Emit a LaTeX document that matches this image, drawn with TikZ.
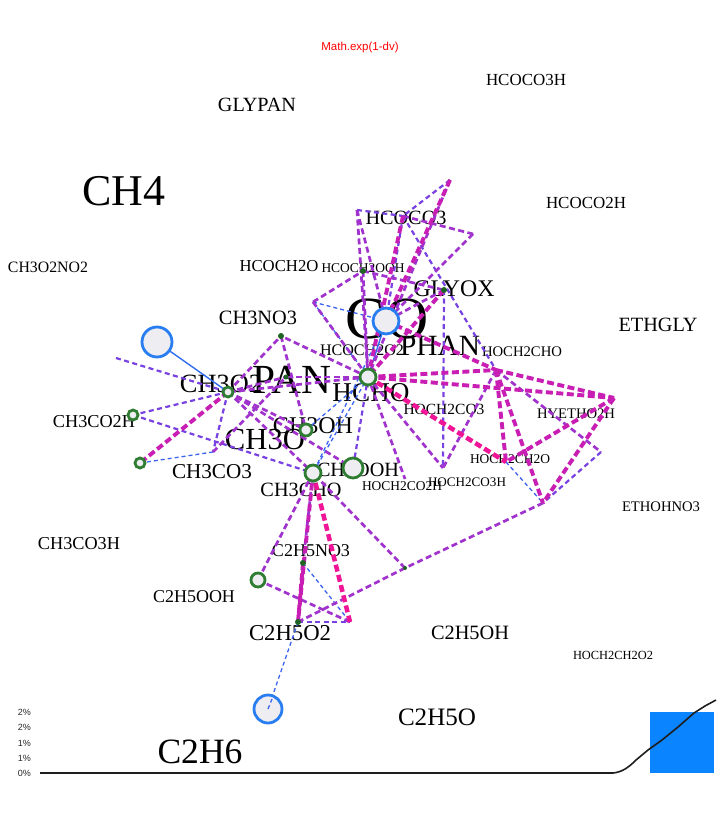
\documentclass[tikz,border=0pt]{standalone}
\usepackage{graphicx}
\usepackage{fontspec}
\setmainfont{Liberation Serif}
\newfontfamily\sansf{Liberation Sans}
\newcommand\fitw[2][80pt]{\resizebox{#1}{!}{#2}}
\definecolor{cpu}{RGB}{160,50,205}
\definecolor{cbv}{RGB}{120,65,225}
\definecolor{cmg}{RGB}{200,30,180}
\definecolor{cpk}{RGB}{240,20,150}
\definecolor{cbl}{RGB}{60,100,240}
\definecolor{cbls}{RGB}{50,110,240}
\definecolor{cbig}{RGB}{40,125,240}
\definecolor{cfill}{RGB}{238,238,242}
\definecolor{cgr}{RGB}{46,125,50}
\definecolor{cdot}{RGB}{30,100,35}
\definecolor{caxis}{RGB}{40,40,40}
\definecolor{cbar}{RGB}{10,132,255}
\definecolor{cline}{RGB}{30,30,30}
\begin{document}
\begin{tikzpicture}[x=1pt,y=-1pt,
  lab/.style={inner sep=0pt,text=black},
  pu/.style={draw=cpu,line width=2.7pt,dash pattern=on 6pt off 3.5pt},
  bv/.style={draw=cbv,line width=2.2pt,dash pattern=on 5pt off 3.5pt},
  mg/.style={draw=cmg,line width=3.9pt,dash pattern=on 7pt off 3.5pt},
  pk/.style={draw=cpk,line width=4.5pt,dash pattern=on 7pt off 3.5pt},
  bl/.style={draw=cbl,line width=1.3pt,dash pattern=on 4pt off 3pt},
  bls/.style={draw=cbls,line width=1.4pt},
  bigc/.style={circle,draw=cbig,line width=2.8pt,fill=cfill,inner sep=0pt},
  grc/.style={circle,draw=cgr,line width=2.8pt,fill=cfill,inner sep=0pt},
  dotc/.style={circle,fill=cdot,inner sep=0pt,minimum size=6pt},
  axl/.style={inner sep=0pt,anchor=east,font=\sansf\fontsize{9}{10}\selectfont,text=caxis}
]
\useasboundingbox (0,0) rectangle (721,826);
\fill[white] (0,0) rectangle (721,826);

% ---------- labels ----------
\node[lab,text=red,font=\sansf\fontsize{11.5}{12}\selectfont] (tMath) at (360,48) {Math.exp(1-dv)};
\node[lab] (tHCOCO3H) at (526,80) {\fitw{HCOCO3H}};
\node[lab] (tGLYPAN) at (257,105) {\fitw[78pt]{GLYPAN}};
\node[lab] (tCH4) at (124,191) {\fitw[83pt]{CH4}};
\node[lab] (tHCOCO2H) at (586,203) {\fitw{HCOCO2H}};
\node[lab] (tHCOCO3) at (406,218) {\fitw[81pt]{HCOCO3}};
\node[lab] (tCH3O2NO2) at (48,267) {\fitw{CH3O2NO2}};
\node[lab] (tHCOCH2O) at (279,266) {\fitw[79pt]{HCOCH2O}};
\node[lab] (tHCOCH2OOH) at (363,268) {\fitw[83pt]{HCOCH2OOH}};
\node[lab] (tGLYOX) at (454,289) {\fitw[81pt]{GLYOX}};
\node[lab] (tCO) at (387,319) {\fitw[83pt]{CO}};
\node[lab] (tETHGLY) at (658,325) {\fitw[79pt]{ETHGLY}};
\node[lab] (tCH3NO3) at (258,318) {\fitw[78pt]{CH3NO3}};
\node[lab] (tHCOCH2O2) at (362,350) {\fitw[84pt]{HCOCH2O2}};
\node[lab] (tPHAN) at (440,346) {\fitw{PHAN}};
\node[lab] (tHOCH2CHO) at (522,352) {\fitw{HOCH2CHO}};
\node[lab] (tCH3O2) at (221,384) {\fitw[82pt]{CH3O2}};
\node[lab] (tPAN) at (292,380) {\fitw[79pt]{PAN}};
\node[lab] (tHCHO) at (371,393) {\fitw[77pt]{HCHO}};
\node[lab] (tHOCH2CO3) at (444,409) {\fitw[81pt]{HOCH2CO3}};
\node[lab] (tHYETHO2H) at (576,414) {\fitw[78pt]{HYETHO2H}};
\node[lab] (tCH3CO2H) at (94,422) {\fitw[82pt]{CH3CO2H}};
\node[lab] (tCH3OH) at (313,426) {\fitw{CH3OH}};
\node[lab] (tCH3O) at (265,440) {\fitw{CH3O}};
\node[lab] (tHOCH2CH2O) at (510,459) {\fitw{HOCH2CH2O}};
\node[lab] (tCH3CO3) at (212,472) {\fitw{CH3CO3}};
\node[lab] (tCH3OOH) at (358,470) {\fitw[82pt]{CH3OOH}};
\node[lab] (tHOCH2CO3H) at (467,482) {\fitw[78pt]{HOCH2CO3H}};
\node[lab] (tHOCH2CO2H) at (402,486) {\fitw{HOCH2CO2H}};
\node[lab] (tCH3CHO) at (301,490) {\fitw[81pt]{CH3CHO}};
\node[lab] (tETHOHNO3) at (661,507) {\fitw[78pt]{ETHOHNO3}};
\node[lab] (tCH3CO3H) at (79,544) {\fitw[82pt]{CH3CO3H}};
\node[lab] (tC2H5NO3) at (311,551) {\fitw[78pt]{C2H5NO3}};
\node[lab] (tC2H5OOH) at (194,597) {\fitw[82pt]{C2H5OOH}};
\node[lab] (tC2H5O2) at (290,633) {\fitw[82pt]{C2H5O2}};
\node[lab] (tC2H5OH) at (470,633) {\fitw[78pt]{C2H5OH}};
\node[lab] (tHOCH2CH2O2) at (613,655) {\fitw{HOCH2CH2O2}};
\node[lab] (tC2H5O) at (437,717) {\fitw[78pt]{C2H5O}};
\node[lab] (tC2H6) at (200,752) {\fitw[85pt]{C2H6}};

% ---------- vertices ----------
\coordinate (vCH4) at (157,342);
\coordinate (vCO) at (386,321);
\coordinate (vC2H6) at (268,709);
\coordinate (vCH3O2) at (228,392);
\coordinate (vCH3CO2H) at (133,415);
\coordinate (vP1) at (140,463);
\coordinate (vCH3OH) at (306,430);
\coordinate (vHCHO) at (368,377);
\coordinate (vCH3OOH) at (353,468);
\coordinate (vCH3CHO) at (313,473);
\coordinate (vC2H5OOH) at (258,580);
\coordinate (vCH3NO3) at (281,336);
\coordinate (vHCOCH2OOH) at (363,271);
\coordinate (vGLYOX) at (444,290);
\coordinate (vC2H5NO3) at (303,563);
\coordinate (vC2H5O2) at (298,622);
\coordinate (vQ) at (405,568);
\coordinate (vPAN) at (286,377);
\coordinate (vApex) at (450,180);
\coordinate (vTL) at (357,210);
\coordinate (vHCOCO3) at (403,216);
\coordinate (vR) at (473,234);
\coordinate (vL) at (313,302);
\coordinate (vHOCH2CHO) at (496,370);
\coordinate (vR2) at (614,398);
\coordinate (vR3) at (601,452);
\coordinate (vHOCH2CH2O) at (506,462);
\coordinate (vBR) at (543,503);
\coordinate (vHOCH2CO3) at (443,468);
\coordinate (vHOCH2CO2H) at (405,479);
\coordinate (vCH3CO3) at (213,452);
\coordinate (vLeft) at (116,358);
\coordinate (vC2R) at (350,622);

% ---------- connectors ----------
\foreach \a/\b in {vL/vHCHO,vL/vCO,vHOCH2CH2O/vBR,vP1/vCH3CO3,vC2H5NO3/vC2R,vCO/vCH3CHO,vHCHO/vCH3OH,vHCHO/vCH3CHO,vC2H5O2/vC2H6}
  \draw[bl] (\a) -- (\b);
\foreach \a/\b in {vCH4/vCH3O2,vCO/vHCHO}
  \draw[bls] (\a) -- (\b);
\foreach \a/\b in {vApex/vHCOCO3,vTL/vHCOCO3,vHCOCO3/vHOCH2CHO,vHCOCO3/vCO,vGLYOX/vHOCH2CO3,vR3/vBR,vLeft/vCH3O2,vCH3O2/vCH3CO2H,vCH3O2/vCH3CO3,vCH3CO2H/vCH3CHO,vC2H5O2/vC2R,vHCHO/vCH3OOH}
  \draw[bv] (\a) -- (\b);
\foreach \a/\b in {vApex/vHCHO,vTL/vCO,vTL/vHCHO,vHCOCO3/vR,vR/vCO,vL/vHCOCH2OOH,vL/vHCHO,vHCOCH2OOH/vHCHO,vHCOCH2OOH/vGLYOX,vGLYOX/vCO,vHCHO/vCH3O2,vHCHO/vCH3NO3,vHCHO/vHOCH2CO2H,vHCHO/vHOCH2CO3,vHOCH2CHO/vR3,vHOCH2CHO/vHOCH2CO3,vBR/vQ,vQ/vC2H5O2,vQ/vCH3CHO,vCH3CHO/vC2H5NO3,vCH3CHO/vC2H5OOH,vC2H5OOH/vC2R,vCH3O2/vCH3NO3,vCH3O2/vCH3OH,vCH3O2/vCH3CHO,vCH3O2/vCH3OOH,vCH3NO3/vCH3OH,vCH3CO3/vPAN,vPAN/vHCHO,vCH3O2/vPAN}
  \draw[pu] (\a) -- (\b);
\foreach \a/\b in {vApex/vCO,vHCOCO3/vHCHO,vGLYOX/vHCHO,vCO/vHOCH2CHO,vHCHO/vHOCH2CHO,vHCHO/vR2,vHOCH2CHO/vR2,vHOCH2CHO/vBR,vHOCH2CHO/vHOCH2CH2O,vR2/vBR,vR2/vHOCH2CH2O,vCH3CHO/vC2H5O2,vC2H5NO3/vC2H5O2,vCH3O2/vP1}
  \draw[mg] (\a) -- (\b);
\foreach \a/\b in {vHCHO/vHOCH2CH2O,vCH3CHO/vC2R}
  \draw[pk] (\a) -- (\b);

% ---------- markers ----------
\node[bigc,minimum size=30pt] (cCH4) at (vCH4) {};
\node[bigc,minimum size=26pt] (cCO) at (vCO) {};
\node[bigc,minimum size=28pt] (cC2H6) at (vC2H6) {};
\draw[bl] (cC2H6.center) -- ++(4,-10);
\node[grc,minimum size=10pt] (cCH3O2) at (vCH3O2) {};
\node[grc,minimum size=10pt] (cCH3CO2H) at (vCH3CO2H) {};
\node[grc,minimum size=10pt] (cP1) at (vP1) {};
\node[grc,minimum size=12pt] (cCH3OH) at (vCH3OH) {};
\node[grc,minimum size=16pt] (cHCHO) at (vHCHO) {};
\node[grc,minimum size=20pt] (cCH3OOH) at (vCH3OOH) {};
\node[grc,minimum size=16pt] (cCH3CHO) at (vCH3CHO) {};
\node[grc,minimum size=14pt] (cC2H5OOH) at (vC2H5OOH) {};
\node[dotc] (dCH3NO3) at (vCH3NO3) {};
\node[dotc] (dHCOCH2OOH) at (vHCOCH2OOH) {};
\node[dotc] (dGLYOX) at (vGLYOX) {};
\node[dotc] (dC2H5NO3) at (vC2H5NO3) {};
\node[dotc] (dC2H5O2) at (vC2H5O2) {};
\node[dotc,minimum size=4pt] (dQ) at (vQ) {};
\node[dotc,minimum size=5pt] (dPAN) at (vPAN) {};

% ---------- chart ----------
\node[axl] (a1) at (31,712) {2\%};
\node[axl] (a2) at (31,727) {2\%};
\node[axl] (a3) at (31,743) {1\%};
\node[axl] (a4) at (31,758) {1\%};
\node[axl] (a5) at (31,773) {0\%};
\fill[cbar] (650,712) rectangle (714,773);
\draw[line width=1.6pt,cline] (40,773) -- (613,773)
  .. controls (622,772) and (628,768) .. (636,760)
  -- (648,750) -- (662,740) -- (678,727) -- (694,713) -- (705,706) -- (716,700);
\end{tikzpicture}
\end{document}
